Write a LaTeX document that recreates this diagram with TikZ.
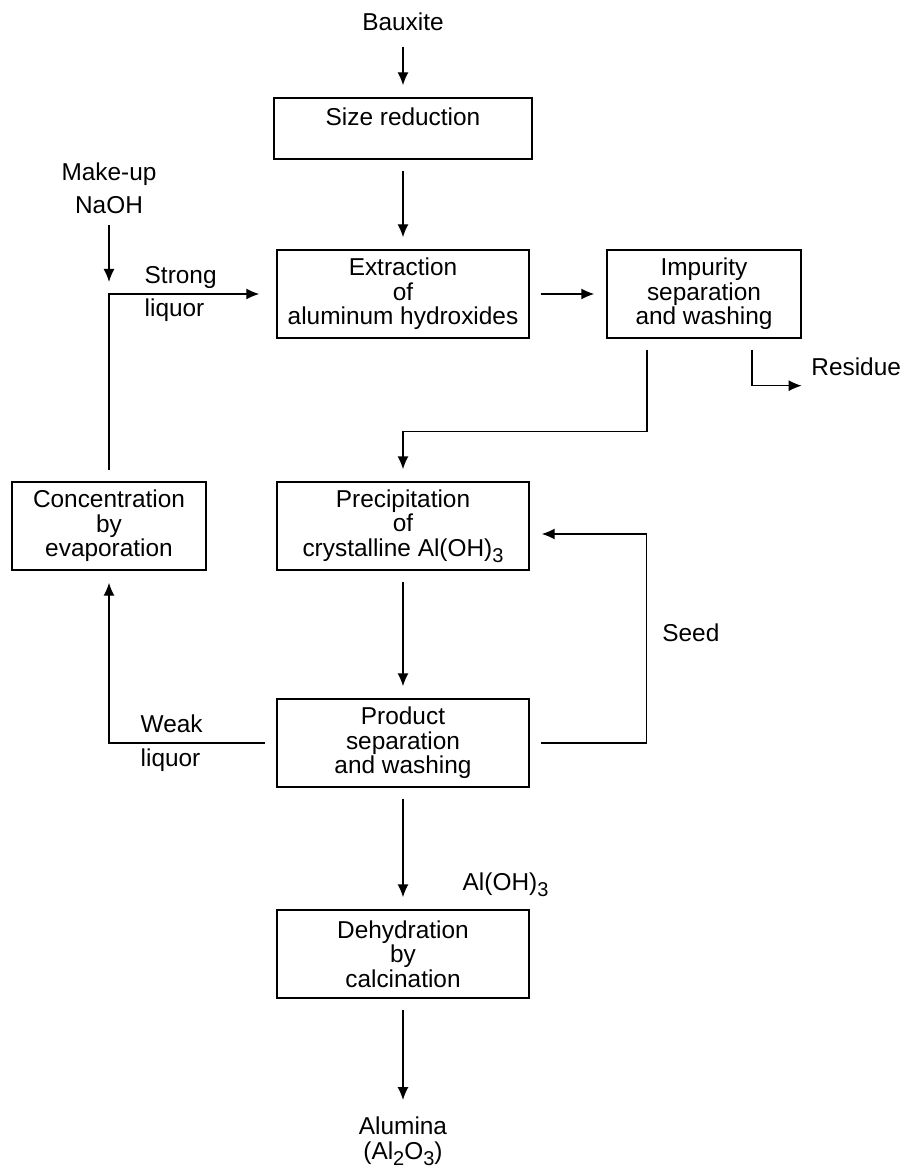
\documentclass[tikz,border=0pt]{standalone}
\usepackage{fontspec}
\setmainfont{Liberation Sans}
\usetikzlibrary{arrows.meta,positioning}
\newcommand{\chemsub}[1]{\raisebox{-3pt}{\fontsize{10pt}{10pt}\selectfont #1}}
\begin{document}
\begin{tikzpicture}[shorten >=6pt,shorten <=5.5pt,line width=0.7pt,>={Latex[length=6.5pt,width=5.5pt]},
    every node/.style={font=\fontsize{12.2pt}{12.3pt}\selectfont},
    block/.style={draw,align=center,minimum width=126pt,minimum height=44pt,inner sep=2pt},
    sideblock/.style={block,minimum width=97pt},
    tag/.style={inner sep=2pt,align=center}]
      \useasboundingbox (-201.5pt,11pt) rectangle (248.5pt,-574pt);

      \node (baux)   [tag]                                         {Bauxite};
      \node (size)   [block, node distance=53.25pt, below of=baux, minimum width=129pt,
                      minimum height=0pt, inner sep=0pt, text height=14pt, text depth=16.5pt] {Size reduction};
      \node (extr)   [block, node distance=82.75pt, below of=size]  {Extraction\\of\\aluminum hydroxides};
      \node (imp)    [sideblock, node distance=150.5pt, right of=extr] {Impurity\\separation\\and washing};
      \node (prec)   [block, node distance=116pt, below of=extr]    {Precipitation\\of\\crystalline Al(OH)\chemsub{3}};
      \node (conc)   [sideblock, node distance=147pt, left of=prec] {Concentration\\by\\evaporation};
      \node (prod)   [block, node distance=108.5pt, below of=prec]  {Product\\separation\\and washing};
      \node (dehyd)  [block, node distance=105.5pt, below of=prod]  {Dehydration\\by\\calcination};
      \node (alum)   [tag, node distance=93.5pt, below of=dehyd]    {Alumina\\(Al\chemsub{2}O\chemsub{3})};
      \node (makeup) [tag, node distance=168.75pt, above of=conc]   {Make-up\\[4.2pt]NaOH};

      \coordinate (mix)   at (conc |- extr.west);
      \coordinate (bend)  at (conc |- prod.west);
      \coordinate (seedx) at ([xshift=58.5pt]prod.east);
      \coordinate (resx)  at ([yshift=-23.5pt]imp.south east);

      \node (strong) [tag, align=left, anchor=west] at ([xshift=15.5pt]mix)  {Strong\\[4.2pt]liquor};
      \node (weak)   [tag, align=left, anchor=west] at ([xshift=13.5pt]bend) {Weak\\[4.7pt]liquor};
      \node (res)    [tag, anchor=west] at ([xshift=2.5pt,yshift=-14pt]imp.south east) {Residue};
      \node (seed)   [tag, anchor=west] at ([xshift=5.5pt,yshift=55pt]seedx) {Seed};
      \node (aloh)   [tag, anchor=base west] at ([xshift=27.5pt,yshift=9.5pt]dehyd.north) {Al(OH)\chemsub{3}};

      \path[->] (baux)   edge (size);
      \path[->] (size)   edge (extr);
      \path[->] (extr)   edge (imp);
      \path[->] (prec)   edge (prod);
      \path[->] (prod)   edge (dehyd);
      \path[->] (dehyd)  edge (alum);
      \path[->] (makeup) edge [shorten <=3pt] (mix);
      \draw[->] ([xshift=-28.5pt]imp.south) -- ++(0,-46.5pt) -| (prec.north);
      \draw[->,shorten >=0pt] ([xshift=24pt]imp.south) |- (resx);
      \draw[->,shorten >=8.5pt] (conc.north) |- (extr.west);
      \draw[->] (prod.east) -- (seedx) |- ([yshift=-4pt]prec.east);
      \draw[->] (prod.west) -| (conc.south);
\end{tikzpicture}
\end{document}
